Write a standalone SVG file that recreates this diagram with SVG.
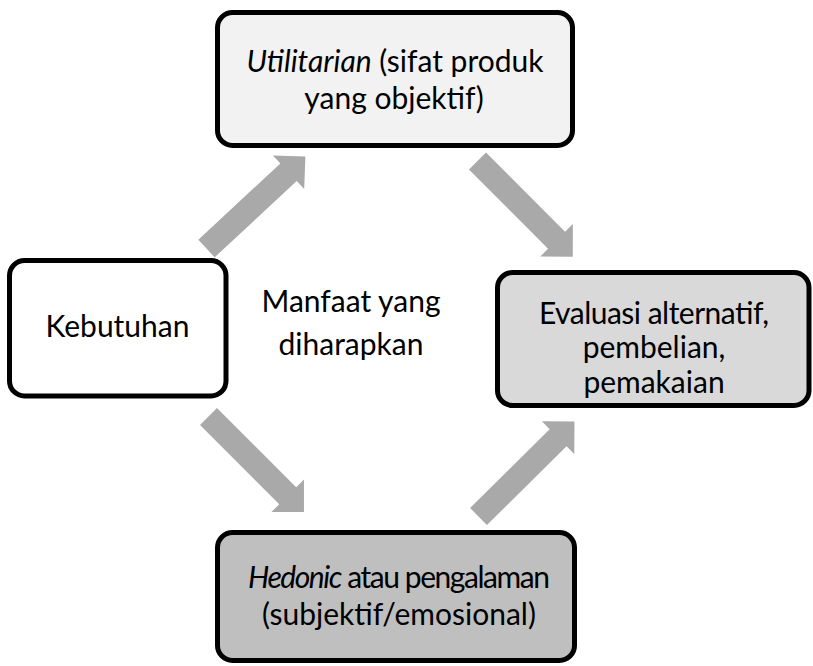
<svg xmlns="http://www.w3.org/2000/svg" width="813" height="666" viewBox="0 0 813 666">
  <defs>
    <style>
      .box { stroke: #000; stroke-width: 5; }
      .label { font-family: Lato, "Liberation Sans", sans-serif; font-size: 30px; fill: #000; text-anchor: middle; }
      .em { font-style: italic; }
      .flow { fill: #a9a9a9; }
    </style>
    <!-- block arrow pointing along +x, tail centred on the origin -->
    <polygon id="blockArrow" points="0,-12 112,-12 112,-23 135,0 112,23 112,12 0,12"/>
  </defs>

  <rect width="813" height="666" fill="#fff"/>

  <g id="connectors" class="flow">
    <use href="#blockArrow" transform="translate(206.5,248.5) rotate(-42.9)"/>
    <use href="#blockArrow" transform="translate(477.5,161) rotate(45.1)"/>
    <use href="#blockArrow" transform="translate(208.5,416.5) rotate(45)"/>
    <use href="#blockArrow" transform="translate(478.5,516.5) rotate(-44.7)"/>
  </g>

  <g id="utilitarian">
    <rect class="box" x="217.5" y="12.5" width="355" height="133" rx="15" fill="#f2f2f2"/>
    <text class="label" x="395" y="72"><tspan class="em">Utilitarian</tspan> (sifat produk</text>
    <text class="label" x="394" y="109">yang objektif)</text>
  </g>

  <g id="kebutuhan">
    <rect class="box" x="9.5" y="260.5" width="216.5" height="135.5" rx="15" fill="#fff"/>
    <text class="label" x="117.5" y="337">Kebutuhan</text>
  </g>

  <g id="manfaat">
    <text class="label" x="351" y="312">Manfaat yang</text>
    <text class="label" x="351" y="355">diharapkan</text>
  </g>

  <g id="evaluasi">
    <rect class="box" x="497.5" y="272.5" width="311.5" height="133" rx="15" fill="#d9d9d9"/>
    <text class="label" x="654" y="324" font-size="29" textLength="230">Evaluasi alternatif,</text>
    <text class="label" x="654" y="358">pembelian,</text>
    <text class="label" x="654" y="393">pemakaian</text>
  </g>

  <g id="hedonic">
    <rect class="box" x="217.5" y="532.5" width="357" height="128" rx="15" fill="#bfbfbf"/>
    <text class="label" x="399" y="588" font-size="28" textLength="302"><tspan class="em">Hedonic</tspan> atau pengalaman</text>
    <text class="label" x="399" y="625">(subjektif/emosional)</text>
  </g>
</svg>
